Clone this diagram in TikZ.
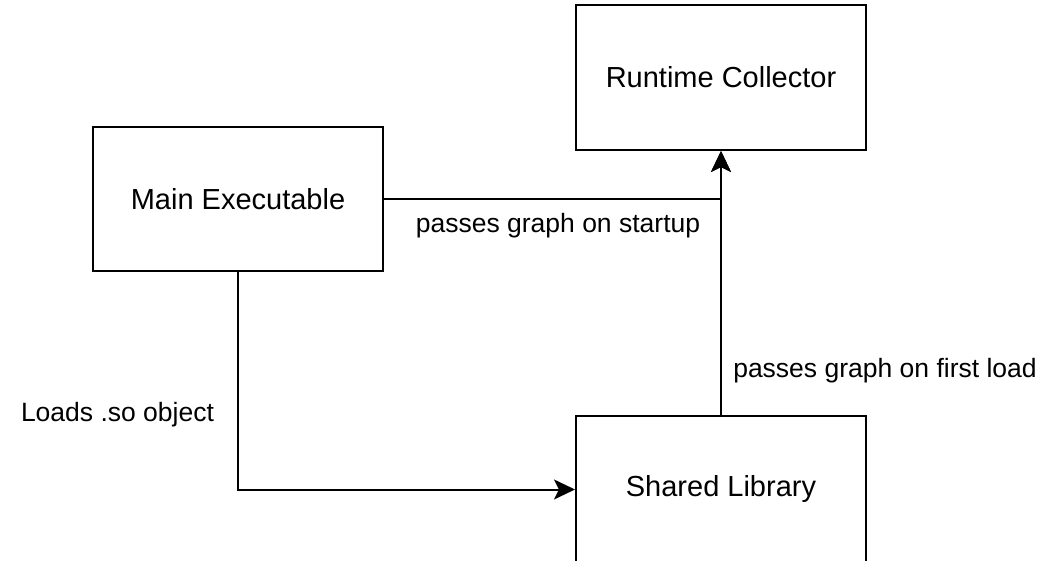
\documentclass[tikz,border=0pt]{standalone}
\usepackage{fontspec}
\setmainfont{Liberation Sans}
\usetikzlibrary{arrows.meta}
\tikzset{
  blockbox/.style={draw=black, line width=2bp, fill=white, inner sep=0pt,
    font=\fontsize{29bp}{34bp}\selectfont},
  flow/.style={draw=black, line width=2bp,
    -{Stealth[length=21bp, width=20bp, inset=5bp]}},
  flowlabel/.style={inner sep=0pt, font=\fontsize{26.5bp}{31bp}\selectfont}
}
\begin{document}
\begin{tikzpicture}[x=1bp, y=-1bp]
  \useasboundingbox (0,0) rectangle (1058,561);
  \clip (0,0) rectangle (1058,561);

  % blocks
  \node[blockbox, minimum width=290bp, minimum height=145bp] (rc) at (721,77.5) {Runtime Collector};
  \node[blockbox, minimum width=290bp, minimum height=144bp] (main) at (238,199) {Main Executable};
  \node[blockbox, minimum width=290bp, minimum height=147bp] (lib) at (721,489.5) {};
  \node[inner sep=0pt, font=\fontsize{29bp}{34bp}\selectfont] (libtext) at (721,489) {Shared Library};

  % connectors
  \draw[flow] (main.east) -| (rc.south);
  \draw[flow] (lib.north) -- (rc.south);
  \draw[flow] (main.south) |- (lib.west);

  % connector labels
  \node[flowlabel] (l1) at (558,226) {passes graph on startup};
  \node[flowlabel] (l2) at (885,371) {passes graph on first load};
  \node[flowlabel] (l3) at (117.5,415) {Loads .so object};
\end{tikzpicture}
\end{document}
